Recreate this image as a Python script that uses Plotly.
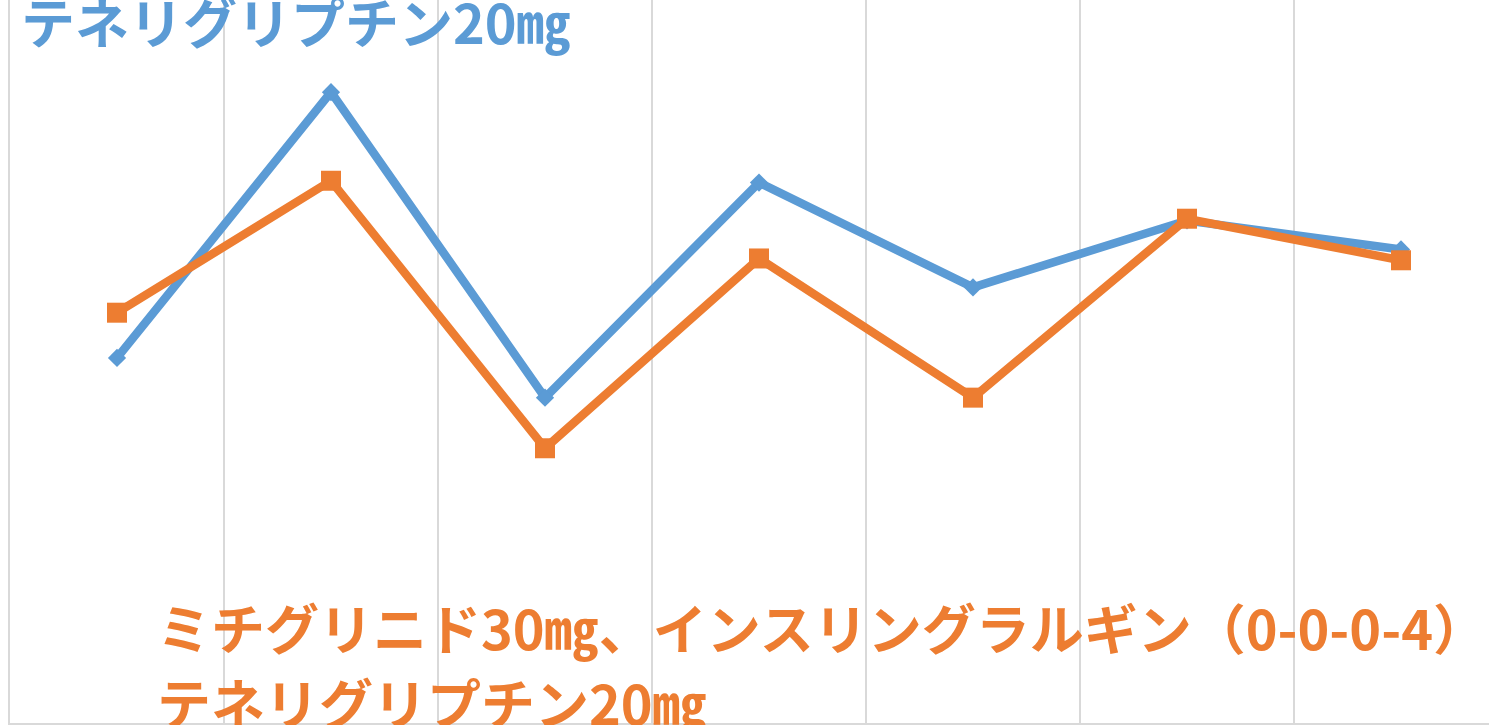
import plotly.graph_objects as go

# Seven consecutive visits, two treatment regimens
visits = [1, 2, 3, 4, 5, 6, 7]
tenelig_only = [7.02, 8.49, 6.80, 7.99, 7.41, 7.78, 7.62]
combo = [7.27, 8.00, 6.52, 7.57, 6.80, 7.79, 7.56]

label_blue = "テネリグリプチン20㎎"
label_orange_1 = "ミチグリニド30㎎、インスリングラルギン（0-0-0-4）"
label_orange_2 = "テネリグリプチン20㎎"

BLUE = "#5B9BD5"
ORANGE = "#ED7D31"
GRID = "#D9D9D9"
FONT = "Noto Sans CJK JP"

W, H = 1489, 725
ML, MB = 10, 2
plot_w = W - ML
cat_px = 214  # width of one category slot

xpos = list(range(len(visits)))

fig = go.Figure()
fig.add_trace(go.Scatter(
    x=xpos, y=tenelig_only, mode="lines+markers",
    line=dict(color=BLUE, width=8.5),
    marker=dict(symbol="diamond", size=14, color=BLUE),
    name=label_blue, showlegend=False,
))
fig.add_trace(go.Scatter(
    x=xpos, y=combo, mode="lines+markers",
    line=dict(color=ORANGE, width=8.5),
    marker=dict(symbol="square", size=20, color=ORANGE),
    name=label_orange_2, showlegend=False,
))

x_max = plot_w / cat_px - 0.5

def px_x(p):
    return (p - ML) / plot_w

def px_y(p):
    return (H - MB - p) / (H - MB)

text_font = dict(family=FONT, size=54, weight="bold")

fig.update_layout(
    width=W, height=H,
    margin=dict(l=ML, r=0, t=0, b=MB, pad=0),
    paper_bgcolor="white", plot_bgcolor="white",
    xaxis=dict(
        range=[-0.5, x_max],
        tickvals=[i + 0.5 for i in range(-1, len(visits))],
        showticklabels=False, ticks="",
        showgrid=True, gridcolor=GRID, gridwidth=1.6,
        zeroline=False,
        showline=True, linecolor=GRID, linewidth=1.6,
    ),
    yaxis=dict(
        range=[5, 9],
        showgrid=False, showticklabels=False, ticks="",
        zeroline=False,
        showline=True, linecolor=GRID, linewidth=1.6,
    ),
    annotations=[
        dict(text=label_blue, x=px_x(19), y=px_y(20), xref="paper", yref="paper",
             xanchor="left", yanchor="middle", showarrow=False,
             font=dict(color=BLUE, **text_font)),
        dict(text=label_orange_1, x=px_x(155), y=px_y(626), xref="paper", yref="paper",
             xanchor="left", yanchor="middle", showarrow=False,
             font=dict(color=ORANGE, **text_font)),
        dict(text=label_orange_2, x=px_x(155), y=px_y(701), xref="paper", yref="paper",
             xanchor="left", yanchor="middle", showarrow=False,
             font=dict(color=ORANGE, **text_font)),
    ],
)

fig.write_html("out.html")
